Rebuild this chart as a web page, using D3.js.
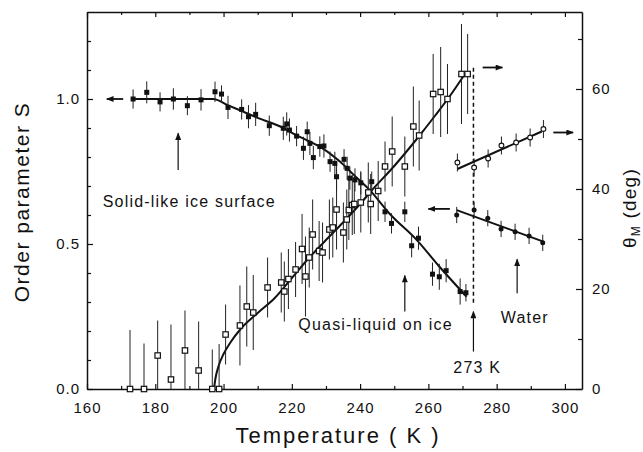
<!DOCTYPE html>
<html>
<head>
<meta charset="utf-8">
<script src="https://cdn.jsdelivr.net/npm/d3@7"></script>
<style>
  body { margin: 0; background: #fff; }
  text { font-family: "Liberation Sans", Arial, sans-serif; fill: #111; }
</style>
</head>
<body>
<div id="chart"></div>
<script>
// ice order parameter S (filled squares): [T, S, err]
const iceS = [
  [173.5,1.0,0.033],[177.5,1.023,0.038],[181.4,0.99,0.033],[185.3,1.0,0.037],[189.4,0.977,0.033],
  [193.4,0.997,0.037],[197.5,1.025,0.035],[199.4,1.017,0.03],[201.3,0.971,0.04],[205.3,0.964,0.035],
  [207.3,0.939,0.04],[209.4,0.947,0.04],[213.4,0.908,0.035],[217.5,0.899,0.04],[218.5,0.914,0.04],
  [219.3,0.893,0.04],[221.4,0.872,0.035],[223.4,0.83,0.04],[224.5,0.887,0.035],[225.3,0.847,0.04],
  [226.3,0.798,0.04],[228.2,0.836,0.035],[229.4,0.838,0.04],[231.2,0.784,0.035],[232.6,0.778,0.04],
  [233.1,0.732,0.05],[235.3,0.792,0.035],[236.2,0.761,0.04],[237,0.727,0.04],[238.5,0.721,0.04],
  [240.2,0.711,0.04],[243.4,0.715,0.035],[247.3,0.611,0.035],[249.2,0.571,0.035],[253.1,0.611,0.035],
  [255.1,0.494,0.04],[257.1,0.52,0.04],[261.2,0.396,0.04],[263.2,0.387,0.045],[265.2,0.408,0.04],
  [269.3,0.336,0.045],[271,0.332,0.03]
];

// ice contact angle theta_M in deg (open squares): [T, deg, err]
const iceTheta = [
  [172.6,0,11.8],[176.7,0,9.1],[180.7,6.7,7],[184.6,1.9,11],[188.7,7.7,8],[192.7,3.7,9.8],
  [196.7,0,7.9],[198.7,0,9],[200.6,10.9,6],[204.8,12.7,8],[206.8,16.5,8],[208.7,15.3,7.5],
  [212.9,20.3,6],[216.9,21.3,6],[217.8,19.5,6],[219,22,6],[221.1,23.9,5.5],[223,28,7],
  [224,22.5,8],[225.1,26.3,6],[226.1,30.9,7],[228,27.6,6],[229,27.3,6],[231,31.9,6],
  [232,32.3,6],[233.1,35.9,8],[235.1,31.3,6],[236.1,33.9,6],[236.7,35.8,6],[237.7,36.8,6],
  [238.3,37,6],[240.2,37.3,6],[242.4,39.3,6],[243.1,37,6],[245.3,39.6,6],[247.3,44.5,5],
  [249.4,47.5,7],[253.1,44.5,6],[255.6,52.5,8],[257.3,50.7,7],[261.4,59,8],[263.6,59.4,9],
  [265.6,58,7],[269.7,63,10],[271.5,63,8]
];

// water: open circles (deg), filled circles (S)
const waterTheta = [[268.5,45.3,1.8],[273.4,44.3,1.8],[277.5,46.1,1.8],[281.4,48.7,1.8],[285.7,49.3,1.8],[289.8,50.3,1.8],[293.7,52,1.8]];
const waterS = [[268.3,0.6,0.028],[273.4,0.617,0.028],[277.4,0.589,0.028],[281.3,0.552,0.028],[285.4,0.542,0.028],[289.5,0.528,0.028],[293.5,0.504,0.028]];

// fitted curves
const iceSFit = [[173.5,1.0],[197,1.0],[201,0.98],[205,0.96],[210,0.935],[217.5,0.9],[221,0.877],[225,0.855],[229,0.83],[234,0.785],[238,0.74],[242.5,0.69],[249,0.6],[256.5,0.515],[263,0.425],[271.2,0.318]];
const iceThetaFit = [[197.2,0],[197.6,2],[198.5,4.5],[200,7],[202,9.3],[205,12],[210,15.2],[215,18.2],[220,22.2],[225,26.2],[230,29.8],[235,33.3],[240,37],[243,39.4],[250,44.6],[256.6,50],[262,54.7],[266.3,58.6],[270.7,63]];
const waterThetaFit = [[268.5,44],[293.2,51.5]];
const waterSFit = [[268.3,0.617],[293.7,0.508]];

// arrows: [T1, v1, T2, v2, axis]
const arrows = [
  [170.6,1.0,165.8,1.0,"S"],
  [186.7,0.755,186.7,0.882,"S"],
  [275.9,64.3,281.7,64.3,"deg"],
  [266.3,0.621,260,0.621,"S"],
  [296.6,51.3,302.4,51.3,"deg"],
  [253.1,0.267,253.1,0.391,"S"],
  [273.2,0.129,273.2,0.267,"S"],
  [286,0.33,286,0.447,"S"]
];

const labels = [
  ["Solid-like ice surface",164.6,0.629],
  ["Quasi-liquid on ice",221.9,0.203],
  ["Water",281.2,0.227],
  ["273 K",267.3,0.054]
];

const meltT = 273.2;

const xTicks = d3.range(160, 301, 20);
const xMinor = d3.range(170, 301, 20);
const sTicks = [0, 0.5, 1.0];
const sMinor = [0.1,0.2,0.3,0.4,0.6,0.7,0.8,0.9,1.1,1.2];
const degTicks = [0, 20, 40, 60];
const degMinor = [10, 30, 50, 70];

const width = 643;
const height = 452;

const svg = d3.select("#chart")
  .append("svg")
  .attr("width", width)
  .attr("height", height);

const x = d3.scaleLinear().domain([160, 305]).range([87, 582]);
const yS = d3.scaleLinear().domain([0, 1.3]).range([389, 12]);
const yDeg = d3.scaleLinear().domain([0, 75.4]).range([389, 12]);
const yOf = a => a === "S" ? yS : yDeg;

// axes
function styleAxis(g) {
  g.select(".domain").attr("stroke", "#111").attr("stroke-width", 1.5);
  g.selectAll(".tick line").attr("stroke", "#111").attr("stroke-width", 1.2);
  g.selectAll(".tick text")
    .attr("font-size", 15)
    .attr("letter-spacing", 1)
    .attr("fill", "#111")
    .style("font-family", "'Liberation Sans', Arial, sans-serif");
}

svg.append("g").attr("transform", "translate(0,389)")
  .call(d3.axisBottom(x).tickValues(xTicks).tickSizeInner(-5).tickSizeOuter(0).tickPadding(13).tickFormat(d3.format("d")))
  .call(styleAxis);
svg.append("g").attr("transform", "translate(0,389)")
  .call(d3.axisBottom(x).tickValues(xMinor).tickSizeInner(-3).tickSizeOuter(0).tickFormat(""))
  .call(styleAxis).select(".domain").remove();

svg.append("g").attr("transform", "translate(0,12)")
  .call(d3.axisTop(x).tickValues(xTicks).tickSizeInner(-5).tickSizeOuter(0).tickFormat(""))
  .call(styleAxis);
svg.append("g").attr("transform", "translate(0,12)")
  .call(d3.axisTop(x).tickValues(xMinor).tickSizeInner(-3).tickSizeOuter(0).tickFormat(""))
  .call(styleAxis).select(".domain").remove();

svg.append("g").attr("transform", "translate(87,0)")
  .call(d3.axisLeft(yS).tickValues(sTicks).tickSizeInner(-6).tickSizeOuter(0).tickPadding(7).tickFormat(d3.format(".1f")))
  .call(styleAxis);
svg.append("g").attr("transform", "translate(87,0)")
  .call(d3.axisLeft(yS).tickValues(sMinor).tickSizeInner(-4).tickSizeOuter(0).tickFormat(""))
  .call(styleAxis).select(".domain").remove();

svg.append("g").attr("transform", "translate(582,0)")
  .call(d3.axisRight(yDeg).tickValues(degTicks).tickSizeInner(-6).tickSizeOuter(0).tickPadding(10).tickFormat(d3.format("d")))
  .call(styleAxis);
svg.append("g").attr("transform", "translate(582,0)")
  .call(d3.axisRight(yDeg).tickValues(degMinor).tickSizeInner(-4).tickSizeOuter(0).tickFormat(""))
  .call(styleAxis).select(".domain").remove();

// axis titles
svg.append("text")
  .attr("x", 338).attr("y", 443)
  .attr("text-anchor", "middle")
  .attr("font-size", 22)
  .attr("letter-spacing", 2)
  .text("Temperature ( K )");

svg.append("text")
  .attr("transform", "translate(29,202) rotate(-90)")
  .attr("text-anchor", "middle")
  .attr("font-size", 21)
  .attr("letter-spacing", 1.5)
  .text("Order parameter  S");

const rt = svg.append("text")
  .attr("transform", "translate(636,208) rotate(-90)")
  .attr("text-anchor", "middle")
  .attr("font-size", 19)
  .attr("letter-spacing", 1.2);
rt.append("tspan").text("θ");
rt.append("tspan").attr("font-size", 12).attr("dy", 4).text("M");
rt.append("tspan").attr("dy", -4).text(" (deg)");

// fit lines
const line = sc => d3.line().x(d => x(d[0])).y(d => sc(d[1])).curve(d3.curveMonotoneX);
[[iceSFit, yS], [iceThetaFit, yDeg], [waterThetaFit, yDeg], [waterSFit, yS]].forEach(([data, sc]) => {
  svg.append("path")
    .datum(data)
    .attr("d", line(sc))
    .attr("fill", "none")
    .attr("stroke", "#111")
    .attr("stroke-width", 2);
});

// melting line
svg.append("line")
  .attr("x1", x(meltT)).attr("x2", x(meltT))
  .attr("y1", yS(1.108)).attr("y2", yS(0.297))
  .attr("stroke", "#111")
  .attr("stroke-width", 1.5)
  .attr("stroke-dasharray", "4,3");

// error bars
function errorBars(data, sc) {
  svg.append("g").selectAll("line")
    .data(data)
    .enter().append("line")
    .attr("x1", d => x(d[0])).attr("x2", d => x(d[0]))
    .attr("y1", d => sc(Math.max(0, d[1] - d[2])))
    .attr("y2", d => sc(d[1] + d[2]))
    .attr("stroke", "#222")
    .attr("stroke-width", 1);
}
errorBars(iceS, yS);
errorBars(iceTheta, yDeg);
errorBars(waterTheta, yDeg);
errorBars(waterS, yS);

// markers
svg.append("g").selectAll("rect")
  .data(iceS)
  .enter().append("rect")
  .attr("x", d => x(d[0]) - 2.5).attr("y", d => yS(d[1]) - 2.5)
  .attr("width", 5).attr("height", 5)
  .attr("fill", "#111");

svg.append("g").selectAll("rect")
  .data(iceTheta)
  .enter().append("rect")
  .attr("x", d => x(d[0]) - 2.7).attr("y", d => yDeg(d[1]) - 2.7)
  .attr("width", 5.4).attr("height", 5.4)
  .attr("fill", "#fff")
  .attr("stroke", "#111")
  .attr("stroke-width", 1.2);

svg.append("g").selectAll("circle")
  .data(waterTheta)
  .enter().append("circle")
  .attr("cx", d => x(d[0])).attr("cy", d => yDeg(d[1]))
  .attr("r", 2.4)
  .attr("fill", "#fff")
  .attr("stroke", "#111")
  .attr("stroke-width", 1.1);

svg.append("g").selectAll("circle")
  .data(waterS)
  .enter().append("circle")
  .attr("cx", d => x(d[0])).attr("cy", d => yS(d[1]))
  .attr("r", 2.5)
  .attr("fill", "#111");

// arrows
svg.append("defs").append("marker")
  .attr("id", "head")
  .attr("viewBox", "0 0 10 8")
  .attr("refX", 9).attr("refY", 4)
  .attr("markerWidth", 8).attr("markerHeight", 6)
  .attr("markerUnits", "userSpaceOnUse")
  .attr("orient", "auto")
  .append("path")
  .attr("d", "M0,0L10,4L0,8Z")
  .attr("fill", "#111");

svg.append("g").selectAll("line")
  .data(arrows)
  .enter().append("line")
  .attr("x1", d => x(d[0])).attr("y1", d => yOf(d[4])(d[1]))
  .attr("x2", d => x(d[2])).attr("y2", d => yOf(d[4])(d[3]))
  .attr("stroke", "#111")
  .attr("stroke-width", d => d[1] === d[3] ? 1.8 : 1.2)
  .attr("marker-end", "url(#head)");

// annotations
svg.append("g").selectAll("text")
  .data(labels)
  .enter().append("text")
  .attr("x", d => x(d[1])).attr("y", d => yS(d[2]))
  .attr("font-size", 16)
  .attr("letter-spacing", 1.2)
  .text(d => d[0]);
</script>
</body>
</html>
